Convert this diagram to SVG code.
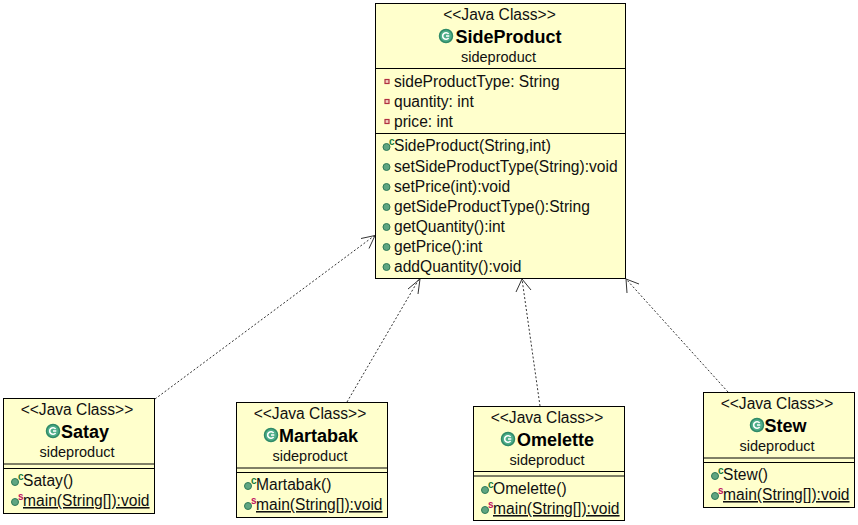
<svg xmlns="http://www.w3.org/2000/svg" width="858" height="525" viewBox="0 0 858 525">
<style>
text{font-family:"Liberation Sans",Arial,sans-serif;font-size:15.6px;fill:#101010}
.m{text-anchor:middle}
.k{font-size:14.500px}
.t{font-size:18px;font-weight:bold;text-anchor:middle;fill:#000}
.u{text-decoration:underline}
.box{fill:#ffffcc;stroke:#000;stroke-width:1}
.d{stroke:#000;stroke-width:1;fill:none}
.c{stroke:#333;stroke-width:1;stroke-dasharray:2 2;fill:none}
.a{stroke:#333;stroke-width:1;fill:none}
.g{fill:#5fa581;stroke:#2f7a58;stroke-width:1}
.ci{fill:#4fae8a;stroke:#2f8a68;stroke-width:1.500}
.cc{fill:none;stroke:#fff;stroke-width:1.600}
.p{fill:#f4d0c0;stroke:#b03040;stroke-width:1.200}
.sc{font-size:10px;font-weight:bold;fill:#1a7a3a}
.ss{font-size:10px;font-weight:bold;fill:#c01060}
</style>
<defs>
<g id="cl"><circle class="ci" r="6.500"/><path class="cc" d="M2.600-2A3.300 3.300 0 1 0 2.600 2M0 0H3.300"/></g>
<circle id="pub" class="g" r="3.500"/>
<rect id="pri" class="p" x="-2" y="-2" width="4" height="4"/>
</defs>
<g id="connectors">
<path class="c" d="M155 399L374 236"/><path class="a" d="M361 238.500L375 235.500L369 248.500"/>
<path class="c" d="M347 402L419 279"/><path class="a" d="M408 289L420 279L418 294"/>
<path class="c" d="M540 406L522 279"/><path class="a" d="M516 292L522 279L531 290"/>
<path class="c" d="M728 392L626 279"/><path class="a" d="M627 293L626 279L639 284"/>
</g>
<g id="SideProduct">
<rect class="box" x="375.500" y="3.500" width="250" height="275"/>
<path class="d" d="M375.500 68.500H625.500M375.500 133.500H625.500"/>
<text class="m" x="499.500" y="20">&lt;&lt;Java Class&gt;&gt;</text>
<use href="#cl" x="446" y="36"/>
<text class="t" x="508.500" y="43">SideProduct</text>
<text class="m k" x="498.500" y="62">sideproduct</text>
<use href="#pri" x="387" y="81.500"/><text x="394" y="87">sideProductType: String</text>
<use href="#pri" x="387" y="101.500"/><text x="394" y="107">quantity: int</text>
<use href="#pri" x="387" y="121.500"/><text x="394" y="127">price: int</text>
<use href="#pub" x="386.500" y="147"/><text class="sc" x="389" y="145">c</text><text x="394" y="151">SideProduct(String,int)</text>
<use href="#pub" x="386.500" y="167"/><text x="394" y="172">setSideProductType(String):void</text>
<use href="#pub" x="386.500" y="187"/><text x="394" y="192">setPrice(int):void</text>
<use href="#pub" x="386.500" y="207"/><text x="394" y="212">getSideProductType():String</text>
<use href="#pub" x="386.500" y="227"/><text x="394" y="232">getQuantity():int</text>
<use href="#pub" x="386.500" y="247"/><text x="394" y="252">getPrice():int</text>
<use href="#pub" x="386.500" y="267"/><text x="394" y="272">addQuantity():void</text>
</g>
<g id="Satay">
<rect class="box" x="3.500" y="398.500" width="151" height="115"/>
<path class="d" d="M3.500 464H154.500M3.500 468.500H154.500"/>
<text class="m" x="77" y="415">&lt;&lt;Java Class&gt;&gt;</text>
<use href="#cl" x="53" y="431"/>
<text class="t" x="85" y="438">Satay</text>
<text class="m k" x="77" y="457">sideproduct</text>
<use href="#pub" x="15" y="482"/><text class="sc" x="18" y="480">c</text><text x="23" y="486">Satay()</text>
<use href="#pub" x="15" y="502"/><text class="ss" x="18" y="500">s</text><text class="u" x="23" y="506">main(String[]):void</text>
</g>
<g id="Martabak">
<rect class="box" x="236.500" y="402.500" width="151" height="115"/>
<path class="d" d="M236.500 468H387.500M236.500 472.500H387.500"/>
<text class="m" x="310" y="419">&lt;&lt;Java Class&gt;&gt;</text>
<use href="#cl" x="271" y="435"/>
<text class="t" x="318.500" y="442">Martabak</text>
<text class="m k" x="310" y="461">sideproduct</text>
<use href="#pub" x="248" y="486"/><text class="sc" x="251" y="484">c</text><text x="256" y="490">Martabak()</text>
<use href="#pub" x="248" y="506"/><text class="ss" x="251" y="504">s</text><text class="u" x="256" y="510">main(String[]):void</text>
</g>
<g id="Omelette">
<rect class="box" x="473.500" y="406.500" width="151" height="114"/>
<path class="d" d="M473.500 471.500H624.500M473.500 476H624.500"/>
<text class="m" x="547" y="423">&lt;&lt;Java Class&gt;&gt;</text>
<use href="#cl" x="508" y="439"/>
<text class="t" x="555.500" y="446">Omelette</text>
<text class="m k" x="547" y="465">sideproduct</text>
<use href="#pub" x="485" y="490"/><text class="sc" x="488" y="488">c</text><text x="493" y="494">Omelette()</text>
<use href="#pub" x="485" y="510"/><text class="ss" x="488" y="508">s</text><text class="u" x="493" y="514">main(String[]):void</text>
</g>
<g id="Stew">
<rect class="box" x="703.500" y="392.500" width="151" height="115"/>
<path class="d" d="M703.500 458H854.500M703.500 462.500H854.500"/>
<text class="m" x="777" y="409">&lt;&lt;Java Class&gt;&gt;</text>
<use href="#cl" x="757" y="425"/>
<text class="t" x="785.500" y="432">Stew</text>
<text class="m k" x="777" y="451">sideproduct</text>
<use href="#pub" x="715" y="476"/><text class="sc" x="718" y="474">c</text><text x="723" y="480">Stew()</text>
<use href="#pub" x="715" y="496"/><text class="ss" x="718" y="494">s</text><text class="u" x="723" y="500">main(String[]):void</text>
</g>
</svg>
